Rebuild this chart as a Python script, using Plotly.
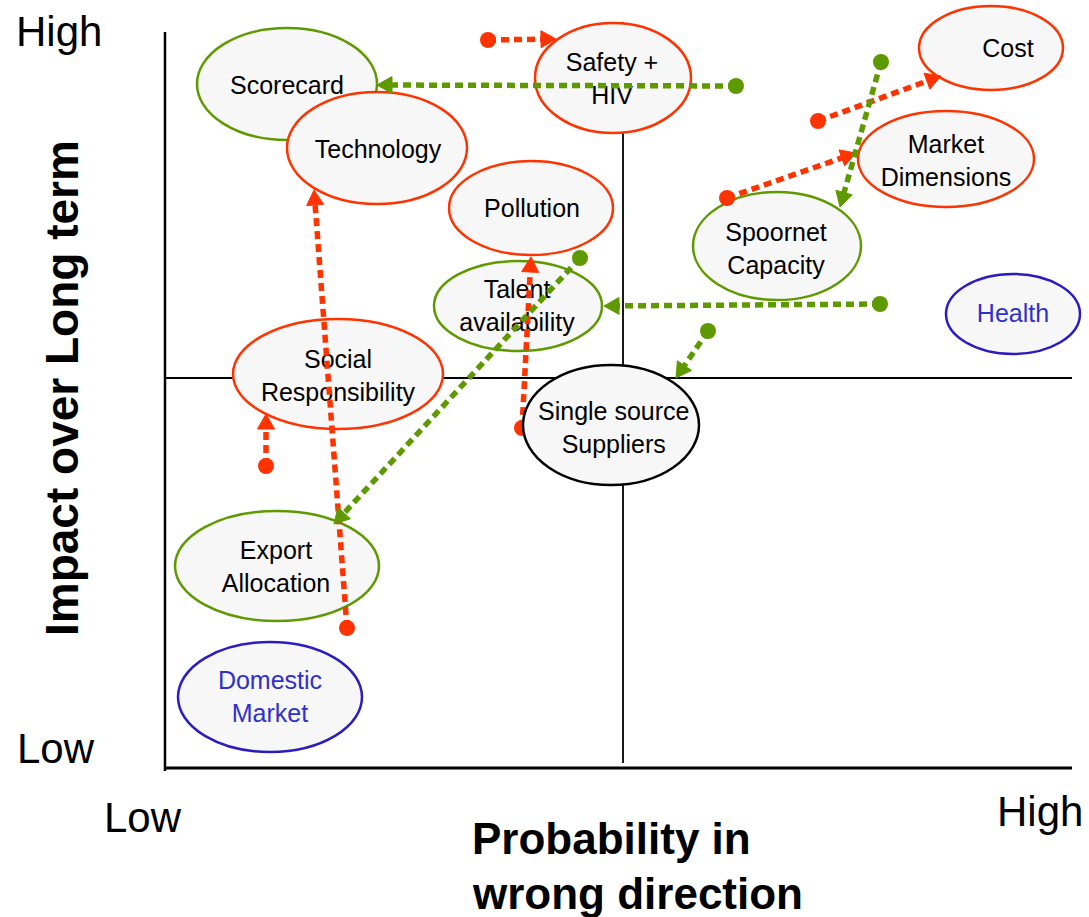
import numpy as np
import plotly.graph_objects as go

# ---- risk items: map position (px-scaled units), ellipse half-axes, label ----
names = ["Scorecard", "Technology", "Safety +<br>HIV", "Pollution", "Cost",
         "Market<br>Dimensions", "Spoornet<br>Capacity", "Health",
         "Talent<br>availability", "Social<br>Responsibility",
         "Export<br>Allocation", "Domestic<br>Market",
         "Single source<br>Suppliers"]
center_x = [287, 377, 613, 531, 991, 946, 777, 1013, 518, 338, 277, 270, 611]
center_y = [84, 148, 78, 208, 48, 159, 246, 314, 306, 374, 566, 697, 425]
half_w = [90, 90, 78, 82, 72, 88, 84, 67, 84, 105, 102, 92, 88]
half_h = [56, 56, 55, 47, 42, 48, 54, 40, 45, 55, 55, 55, 60]
label_x = [287, 378, 612, 532, 1008, 946, 776, 1013, 517, 338, 276, 270, 613]
label_y = [88, 152, 81, 211, 51, 163, 251, 316, 308, 378, 569, 699, 427]
category = ["green", "red", "red", "red", "red", "red", "green", "blue",
            "green", "red", "green", "blue", "black"]

# ---- movement arrows: from (dot) -> to (arrow tip) ----
move_from_x = [488, 818, 727, 347, 266, 522, 736, 881, 580, 880, 708]
move_from_y = [40, 121, 198, 628, 466, 428, 86, 62, 258, 304, 331]
move_to_x = [556, 941, 856, 314, 266, 531, 377, 840, 334, 604, 676]
move_to_y = [39, 76, 153, 190, 414, 257, 85, 207, 524, 306, 378]
move_cat = ["red"] * 6 + ["green"] * 5

edge_col = {"red": "#ff3300", "green": "#5f9900", "blue": "#2a1cbe", "black": "#000000"}
text_col = {"red": "#000000", "green": "#000000", "blue": "#3030cc", "black": "#000000"}
FILL = "#f7f7f7"
FONT = "Liberation Sans, Arial, sans-serif"

W, H = 1089, 917
fig = go.Figure()

# quadrant frame and centre lines
frame = [
    dict(x0=165, y0=32, x1=165, y1=771, w=2.5),
    dict(x0=165, y0=768, x1=1072, y1=768, w=3),
    dict(x0=623, y0=22, x1=623, y1=763, w=1.8),
    dict(x0=165, y0=378, x1=1072, y1=378, w=1.8),
]
for f in frame:
    fig.add_shape(type="line", x0=f["x0"], y0=f["y0"], x1=f["x1"], y1=f["y1"],
                  line=dict(color="black", width=f["w"]), layer="below")

# ellipses; the last item sits on top of the arrows
n_items = len(names)
for i in range(n_items):
    fig.add_shape(type="circle",
                  x0=center_x[i] - half_w[i], x1=center_x[i] + half_w[i],
                  y0=center_y[i] - half_h[i], y1=center_y[i] + half_h[i],
                  line=dict(color=edge_col[category[i]], width=2.5),
                  fillcolor=FILL,
                  layer="above" if i == n_items - 1 else "below")

# labels drawn beneath the arrows
fig.add_trace(go.Scatter(
    x=label_x[:-1], y=label_y[:-1], mode="text", text=names[:-1],
    textposition="middle center",
    textfont=dict(family=FONT, size=25, color=[text_col[c] for c in category[:-1]]),
    hoverinfo="skip", showlegend=False))

# arrows: dotted shaft, triangular head, round start dot
HEAD_LEN, HEAD_HALF = 15, 8.5
for x0, y0, x1, y1, c in zip(move_from_x, move_from_y, move_to_x, move_to_y, move_cat):
    col = edge_col[c]
    p0 = np.array([x0, y0], float)
    p1 = np.array([x1, y1], float)
    d = p1 - p0
    u = d / np.hypot(*d)
    nrm = np.array([-u[1], u[0]])
    base = p1 - u * HEAD_LEN
    fig.add_trace(go.Scatter(
        x=[p0[0], base[0] + u[0] * 2], y=[p0[1], base[1] + u[1] * 2], mode="lines",
        line=dict(color=col, width=5.5, dash="8px,5px"),
        hoverinfo="skip", showlegend=False))
    tri = np.array([p1, base + nrm * HEAD_HALF, base - nrm * HEAD_HALF, p1])
    fig.add_trace(go.Scatter(
        x=tri[:, 0], y=tri[:, 1], mode="lines", fill="toself",
        fillcolor=col, line=dict(color=col, width=1),
        hoverinfo="skip", showlegend=False))
    fig.add_trace(go.Scatter(
        x=[x0], y=[y0], mode="markers",
        marker=dict(color=col, size=16, line=dict(width=0)),
        hoverinfo="skip", showlegend=False))

# label of the top-layer ellipse
fig.add_annotation(x=label_x[-1], y=label_y[-1], text=names[-1], showarrow=False,
                   font=dict(family=FONT, size=25, color=text_col[category[-1]]),
                   xanchor="center", yanchor="middle")

# axis end labels
ends = [("High", 59, 31), ("Low", 56, 748), ("Low", 143, 817), ("High", 1040, 811)]
for t, x, y in ends:
    fig.add_annotation(x=x, y=y, text=t, showarrow=False, xanchor="center",
                       yanchor="middle", font=dict(family=FONT, size=42, color="black"))

# axis titles
fig.add_annotation(x=62, y=388, text="<b>Impact over Long term</b>", textangle=-90,
                   showarrow=False, xanchor="center", yanchor="middle",
                   font=dict(family=FONT, size=46, color="black"))
fig.add_annotation(x=470, y=838, text="<b>Probability in</b>", showarrow=False,
                   xanchor="left", yanchor="middle",
                   font=dict(family=FONT, size=44, color="black"))
fig.add_annotation(x=470, y=893, text="<b>wrong direction</b>", showarrow=False,
                   xanchor="left", yanchor="middle",
                   font=dict(family=FONT, size=44, color="black"))

fig.update_xaxes(range=[0, W], visible=False, fixedrange=True)
fig.update_yaxes(range=[H, 0], visible=False, fixedrange=True)
fig.update_layout(width=W, height=H, margin=dict(l=0, r=0, t=0, b=0),
                  plot_bgcolor="white", paper_bgcolor="white", showlegend=False)

fig.write_html("out.html")
